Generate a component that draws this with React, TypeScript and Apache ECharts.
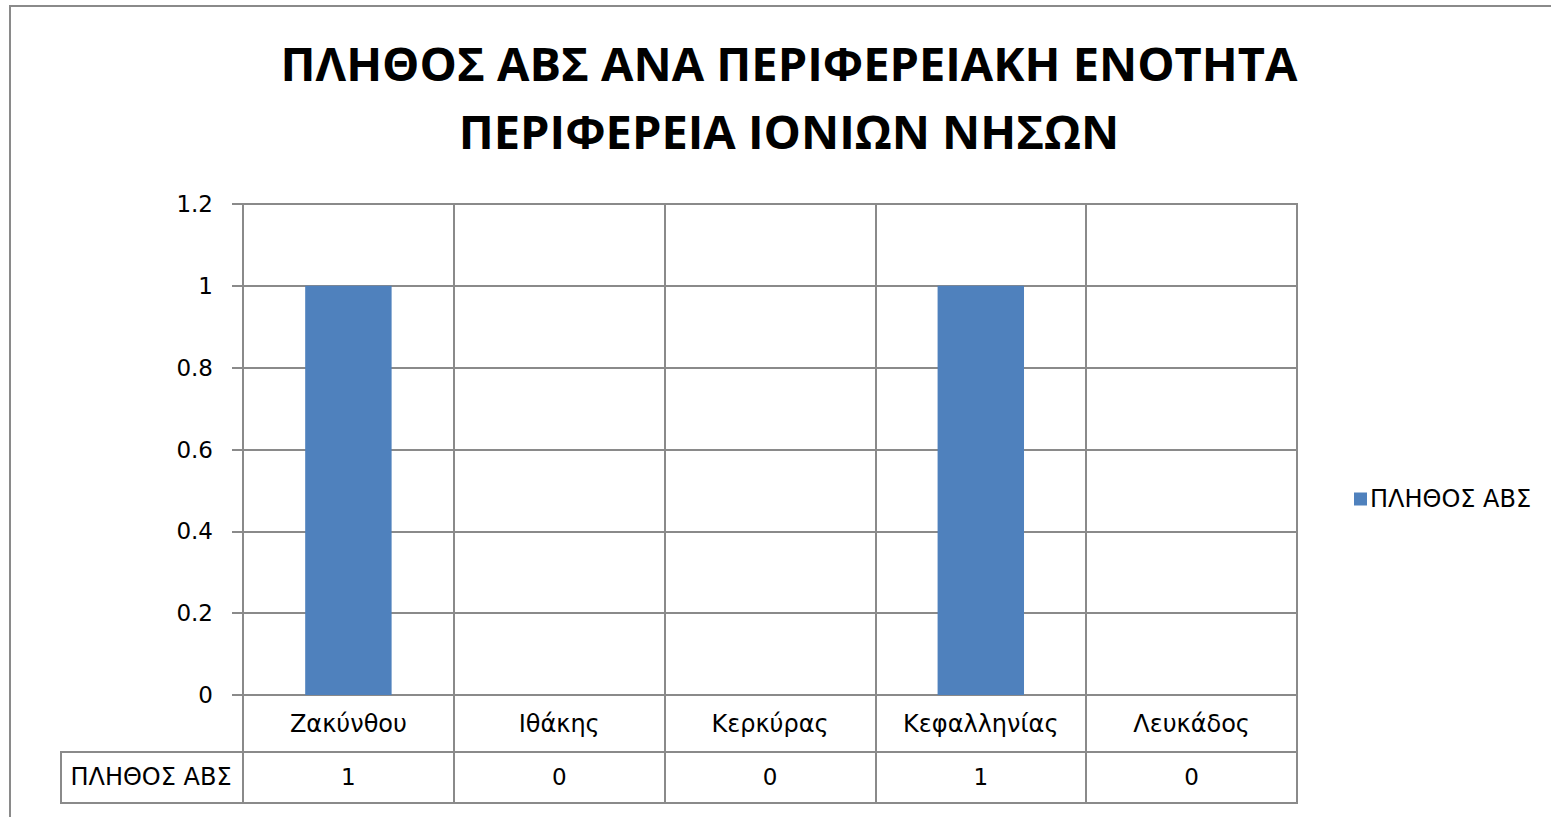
import React, { useEffect, useRef } from "react";
import * as echarts from "echarts";

const titleLines = ["ΠΛΗΘΟΣ ΑΒΣ ΑΝΑ ΠΕΡΙΦΕΡΕΙΑΚΗ ΕΝΟΤΗΤΑ", "ΠΕΡΙΦΕΡΕΙΑ ΙΟΝΙΩΝ ΝΗΣΩΝ"];
const categories = ["Ζακύνθου", "Ιθάκης", "Κερκύρας", "Κεφαλληνίας", "Λευκάδος"];
const seriesName = "ΠΛΗΘΟΣ ΑΒΣ";
const values = [1, 0, 0, 1, 0];
const yMin = 0;
const yMax = 1.2;
const yInterval = 0.2;

const LINE = "#8a8a8a";
const FONT = "Open Sans";
const SMALL = "DejaVu Sans";

export default function App() {
  const ref = useRef<HTMLDivElement>(null);
  useEffect(() => {
    if (!ref.current) return;
    const chart = echarts.init(ref.current, undefined, { renderer: "svg" });
    chart.setOption({
      animation: false,
      backgroundColor: "#ffffff",
      title: {
        text: titleLines.join("\n"),
        left: 784,
        top: 24,
        textAlign: "center",
        textStyle: { fontFamily: FONT, fontWeight: "bold", fontSize: 47, lineHeight: 68, color: "#000" },
      },
      legend: {
        data: [seriesName],
        left: 1349,
        top: 482,
        icon: "rect",
        itemWidth: 13,
        itemHeight: 13,
        itemGap: 8,
        textStyle: { fontFamily: SMALL, fontSize: 24, color: "#000", padding: [0, 0, 0, -2] },
      },
      grid: {
        left: 243,
        right: 254,
        top: 204,
        bottom: 122,
        show: true,
        borderColor: LINE,
        borderWidth: 2,
      },
      xAxis: [
        {
          type: "category",
          data: categories,
          boundaryGap: true,
          axisLine: { show: true, lineStyle: { color: LINE, width: 2 } },
          axisTick: { show: true, length: 108, lineStyle: { color: LINE, width: 2 } },
          splitLine: { show: true, lineStyle: { color: LINE, width: 2 } },
          axisLabel: { fontFamily: SMALL, fontSize: 24, color: "#000", margin: 17 },
        },
        {
          type: "category",
          data: values.map((v) => String(v)),
          position: "bottom",
          offset: 57,
          boundaryGap: true,
          axisLine: { show: false },
          axisTick: { show: false },
          splitLine: { show: false },
          axisLabel: { fontFamily: SMALL, fontSize: 23, color: "#000", margin: 13 },
        },
      ],
      yAxis: {
        type: "value",
        min: yMin,
        max: yMax,
        interval: yInterval,
        axisLine: { show: true, lineStyle: { color: LINE, width: 2 } },
        axisTick: { show: true, length: 11, lineStyle: { color: LINE, width: 2 } },
        splitLine: { show: true, lineStyle: { color: LINE, width: 2 } },
        axisLabel: { fontFamily: SMALL, fontSize: 23, color: "#000", margin: 30 },
      },
      series: [
        {
          name: seriesName,
          type: "bar",
          data: values,
          barWidth: "41%",
          itemStyle: { color: "#4F81BD" },
        },
      ],
      graphic: [
        {
          type: "rect",
          shape: { x: 10, y: 6, width: 1700, height: 1000 },
          style: { fill: "none", stroke: LINE, lineWidth: 2 },
          silent: true,
        },
        {
          type: "rect",
          shape: { x: 61, y: 752, width: 1297 - 61, height: 51 },
          style: { fill: "none", stroke: LINE, lineWidth: 2 },
          silent: true,
        },
        {
          type: "text",
          x: 151,
          y: 777,
          style: {
            text: seriesName,
            fontFamily: SMALL,
            fontSize: 24,
            fill: "#000",
            align: "center",
            verticalAlign: "middle",
          },
          silent: true,
        },
      ],
    });
    return () => chart.dispose();
  }, []);
  return (
    <div
      ref={ref}
      style={{ position: "absolute", left: 0, top: 0, width: 1551, height: 817 }}
    />
  );
}
